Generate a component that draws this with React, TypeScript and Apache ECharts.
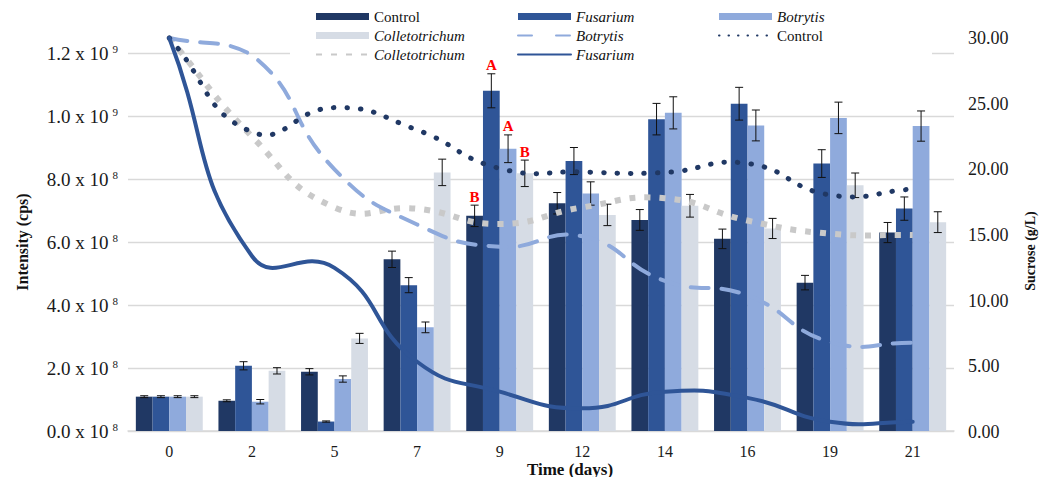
import React, { useEffect, useRef } from "react";
import * as echarts from "echarts";

// ---------- data ----------
const days = ["0", "2", "5", "7", "9", "12", "14", "16", "19", "21"];

// Intensity, in units of 10^8 cps
const controlIntensity = [1.09, 0.96, 1.88, 5.45, 6.83, 7.23, 6.7, 6.1, 4.71, 6.3];
const fusariumIntensity = [1.09, 2.07, 0.3, 4.63, 10.8, 8.57, 9.9, 10.39, 8.49, 7.06];
const botrytisIntensity = [1.09, 0.93, 1.65, 3.29, 8.96, 7.54, 10.1, 9.7, 9.94, 9.68];
const colletoIntensity = [1.09, 1.91, 2.94, 8.21, 8.18, 6.86, 7.15, 6.43, 7.8, 6.63];

const controlErr = [0.03, 0.03, 0.1, 0.26, 0.34, 0.34, 0.33, 0.31, 0.23, 0.32];
const fusariumErr = [0.03, 0.13, 0.02, 0.24, 0.54, 0.43, 0.5, 0.52, 0.44, 0.37];
const botrytisErr = [0.03, 0.07, 0.1, 0.17, 0.44, 0.37, 0.51, 0.49, 0.5, 0.48];
const colletoErr = [0.03, 0.1, 0.16, 0.42, 0.42, 0.34, 0.36, 0.32, 0.39, 0.33];

// significance letters (day 9)
const letterDayIndex = 4;
const day9Letters = ["B", "A", "A", "B"];

// Sucrose (g/L)
const controlSucrose = [30, 22.85, 24.7, 23.0, 20.07, 19.8, 19.76, 20.45, 18.05, 18.5];
const fusariumSucrose = [30, 13.4, 12.5, 5.35, 3.07, 1.8, 3.07, 2.6, 0.78, 0.78];
const botrytisSucrose = [30, 28.7, 20.0, 15.8, 14.1, 14.9, 11.5, 10.4, 6.85, 6.8];
const colletoSucrose = [30, 22.5, 17.1, 17.0, 15.84, 17.1, 17.8, 16.1, 15.1, 15.0];

// left axis tick labels
const leftTickMantissa = ["0.0", "2.0", "4.0", "6.0", "8.0", "1.0", "1.2"];
const leftTickExponent = ["8", "8", "8", "8", "8", "9", "9"];

// ---------- styles ----------
const FONT = '"Liberation Serif", "Times New Roman", serif';
const C_CONTROL = "#203864";
const C_FUS = "#2F5597";
const C_BOT = "#8FAADC";
const C_COL = "#D6DCE5";
const C_COL_LINE = "#C9C9C9";
const GAP = 0.19;
const SMOOTH = 0.5;

const displayNames: Record<string, string> = {
  Control: "{n|Control}",
  Fusarium: "{i|Fusarium}",
  Botrytis: "{i|Botrytis}",
  Colletotrichum: "{i|Colletotrichum}",
  "Control sucrose": "{n|Control}",
  "Fusarium sucrose": "{i|Fusarium}",
  "Botrytis sucrose": "{i|Botrytis}",
  "Colletotrichum sucrose": "{i|Colletotrichum}",
};

// Smooth bezier path through points (no monotone clamping, like spreadsheet smoothing)
function smoothPath(pts: number[][], s: number, yMin: number, yMax: number) {
  const n = pts.length;
  const cy = (y: number) => Math.min(yMax, Math.max(yMin, y));
  const before: number[][] = [];
  const after: number[][] = [];
  for (let i = 0; i < n; i++) {
    const p = pts[i];
    const p0 = pts[Math.max(0, i - 1)];
    const p2 = pts[Math.min(n - 1, i + 1)];
    const vx = p2[0] - p0[0];
    const vy = p2[1] - p0[1];
    const lp = Math.hypot(p[0] - p0[0], p[1] - p0[1]);
    const ln = Math.hypot(p2[0] - p[0], p2[1] - p[1]);
    const r = lp + ln > 0 ? ln / (lp + ln) : 0.5;
    before.push([p[0] - vx * s * (1 - r), cy(p[1] - vy * s * (1 - r))]);
    after.push([p[0] + vx * s * r, cy(p[1] + vy * s * r)]);
  }
  let d = `M${pts[0][0]},${pts[0][1]}`;
  for (let i = 0; i < n - 1; i++) {
    const a = after[i];
    const b = before[i + 1];
    const q = pts[i + 1];
    d += ` C${a[0]},${a[1]} ${b[0]},${b[1]} ${q[0]},${q[1]}`;
  }
  return d;
}

export default function App() {
  const ref = useRef<HTMLDivElement>(null);

  useEffect(() => {
    document.body.style.margin = "0";
    const chart = echarts.init(ref.current!, null, { renderer: "svg" });

    const barNames = ["Control", "Fusarium", "Botrytis", "Colletotrichum"];
    const barValues = [controlIntensity, fusariumIntensity, botrytisIntensity, colletoIntensity];
    const errValues = [controlErr, fusariumErr, botrytisErr, colletoErr];
    const barColors = [C_CONTROL, C_FUS, C_BOT, C_COL];

    const errData: number[][] = [];
    const errLetters: string[] = [];
    for (let s = 0; s < 4; s++) {
      for (let d = 0; d < days.length; d++) {
        errData.push([d, s, barValues[s][d], errValues[s][d]]);
        errLetters.push(d === letterDayIndex ? day9Letters[s] : "");
      }
    }

    const lineDefs = [
      {
        name: "Colletotrichum sucrose",
        values: colletoSucrose,
        style: { stroke: C_COL_LINE, lineWidth: 6, lineDash: [6, 9], lineCap: "butt" },
        legendLine: { color: C_COL_LINE, width: 6, type: [6, 9], cap: "butt" },
      },
      {
        name: "Botrytis sucrose",
        values: botrytisSucrose,
        style: { stroke: C_BOT, lineWidth: 4, lineDash: [18, 13], lineCap: "round" },
        legendLine: { color: C_BOT, width: 4, type: [14, 24], cap: "round" },
      },
      {
        name: "Control sucrose",
        values: controlSucrose,
        style: { stroke: C_CONTROL, lineWidth: 5, lineDash: [0.5, 13], lineCap: "round" },
        legendLine: { color: C_CONTROL, width: 5, type: [0.5, 9], cap: "round" },
      },
      {
        name: "Fusarium sucrose",
        values: fusariumSucrose,
        style: { stroke: C_FUS, lineWidth: 4, lineCap: "round" },
        legendLine: { color: C_FUS, width: 4, type: "solid", cap: "round" },
      },
    ];

    const legendText = {
      fontFamily: FONT,
      fontSize: 15,
      color: "#111",
      lineHeight: 19,
      rich: {
        n: { fontFamily: FONT, fontSize: 15, color: "#111", lineHeight: 19 },
        i: { fontFamily: FONT, fontSize: 15, color: "#111", fontStyle: "italic", lineHeight: 19 },
      },
    };
    const legendBase = {
      orient: "vertical",
      top: 7,
      padding: 0,
      itemGap: 0,
      itemWidth: 53,
      itemHeight: 7,
      selectedMode: false,
      formatter: (name: string) => displayNames[name] || name,
      textStyle: legendText,
    };
    const lineLegend = (name: string) => ({ name, itemStyle: { opacity: 0 } });

    const option: any = {
      animation: false,
      backgroundColor: "#fff",
      grid: [
        { left: 128, right: 92, top: 53, bottom: 46 },
        { left: 128, right: 92, top: 38, bottom: 45 },
      ],
      legend: [
        {
          ...legendBase,
          left: 315,
          data: [
            { name: "Control", icon: "rect" },
            { name: "Colletotrichum", icon: "rect" },
            lineLegend("Colletotrichum sucrose"),
          ],
        },
        {
          ...legendBase,
          left: 517,
          data: [
            { name: "Fusarium", icon: "rect" },
            lineLegend("Botrytis sucrose"),
            lineLegend("Fusarium sucrose"),
          ],
        },
        {
          ...legendBase,
          left: 718,
          data: [{ name: "Botrytis", icon: "rect" }, lineLegend("Control sucrose")],
        },
      ],
      xAxis: [
        {
          type: "category",
          gridIndex: 0,
          data: days,
          axisTick: { show: false },
          axisLine: { show: true, lineStyle: { color: "#D9D9D9", width: 1.5 } },
          axisLabel: {
            fontFamily: FONT,
            fontSize: 16,
            lineHeight: 14,
            color: "#1a1a1a",
            margin: 13,
          },
        },
        { type: "category", gridIndex: 1, data: days, show: false },
      ],
      yAxis: [
        {
          type: "value",
          gridIndex: 0,
          min: 0,
          max: 12,
          interval: 2,
          axisLine: { show: false },
          axisTick: { show: false },
          splitLine: { show: true, lineStyle: { color: "#D9D9D9", width: 1.3 } },
          axisLabel: {
            margin: 10,
            formatter: (_v: number, idx: number) =>
              `{m|${leftTickMantissa[idx]} x 10}{e|${leftTickExponent[idx]}}`,
            rich: {
              m: { fontFamily: FONT, fontSize: 19, color: "#1a1a1a", lineHeight: 20 },
              e: {
                fontFamily: FONT,
                fontSize: 11,
                color: "#1a1a1a",
                lineHeight: 11,
                verticalAlign: "top",
                padding: [0, 0, 0, 4],
              },
            },
          },
        },
        {
          type: "value",
          gridIndex: 1,
          position: "right",
          min: 0,
          max: 30,
          interval: 5,
          axisLine: { show: false },
          axisTick: { show: false },
          splitLine: { show: false },
          axisLabel: {
            margin: 14,
            fontFamily: FONT,
            fontSize: 18,
            color: "#1a1a1a",
            formatter: (v: number) => v.toFixed(2),
          },
        },
      ],
      graphic: [
        {
          type: "rect",
          z: 3,
          shape: { x: 290, y: 0, width: 642, height: 61 },
          style: { fill: "#fff" },
          silent: true,
        },
        {
          type: "text",
          x: 22,
          y: 242,
          rotation: Math.PI / 2,
          style: {
            text: "Intensity (cps)",
            fontFamily: FONT,
            fontSize: 16,
            fontWeight: "bold",
            fill: "#111",
            align: "center",
            verticalAlign: "middle",
          },
        },
        {
          type: "text",
          x: 1030,
          y: 251,
          rotation: Math.PI / 2,
          style: {
            text: "Sucrose (g/L)",
            fontFamily: FONT,
            fontSize: 14,
            fontWeight: "bold",
            fill: "#111",
            align: "center",
            verticalAlign: "middle",
          },
        },
        {
          type: "text",
          x: 570,
          y: 469,
          style: {
            text: "Time (days)",
            fontFamily: FONT,
            fontSize: 17,
            lineHeight: 15,
            fontWeight: "bold",
            fill: "#111",
            align: "center",
            verticalAlign: "middle",
          },
        },
      ],
      series: [
        ...barNames.map((name, s) => ({
          name,
          type: "bar",
          xAxisIndex: 0,
          yAxisIndex: 0,
          data: barValues[s],
          barGap: "0%",
          barCategoryGap: `${GAP * 100}%`,
          itemStyle: { color: barColors[s] },
        })),
        {
          name: "errors",
          type: "custom",
          xAxisIndex: 0,
          yAxisIndex: 0,
          data: errData,
          z: 3,
          renderItem: (params: any, api: any) => {
            const ci = api.value(0);
            const si = api.value(1);
            const mean = api.value(2);
            const err = api.value(3);
            const band = api.size([1, 0])[0];
            const bw = (band * (1 - GAP)) / 4;
            const cx = api.coord([ci, 0])[0] + (si - 1.5) * bw;
            const yTop = api.coord([ci, mean + err])[1];
            const yBot = api.coord([ci, mean - err])[1];
            const cap = 4;
            const ls = { stroke: "#111", lineWidth: 1 };
            const children: any[] = [
              { type: "line", shape: { x1: cx, y1: yTop, x2: cx, y2: yBot }, style: ls },
              { type: "line", shape: { x1: cx - cap, y1: yTop, x2: cx + cap, y2: yTop }, style: ls },
              { type: "line", shape: { x1: cx - cap, y1: yBot, x2: cx + cap, y2: yBot }, style: ls },
            ];
            const letter = errLetters[params.dataIndex];
            if (letter) {
              children.push({
                type: "text",
                x: cx,
                y: yTop - 1,
                style: {
                  text: letter,
                  fontFamily: FONT,
                  fontSize: 15,
                  fontWeight: "bold",
                  fill: "#FF0000",
                  align: "center",
                  verticalAlign: "bottom",
                },
              });
            }
            return { type: "group", children };
          },
        },
        // legend entries for the sucrose curves
        ...lineDefs.map((l) => ({
          name: l.name,
          type: "line",
          xAxisIndex: 1,
          yAxisIndex: 1,
          data: [],
          symbol: "none",
          lineStyle: l.legendLine,
          itemStyle: { color: l.legendLine.color },
        })),
        // smoothed sucrose curves
        ...lineDefs.map((l) => ({
          name: l.name + " curve",
          type: "custom",
          xAxisIndex: 1,
          yAxisIndex: 1,
          z: 4,
          data: l.values.map((v, i) => [i, v]),
          renderItem: (params: any, api: any) => {
            if (params.dataIndex !== 0) return null;
            const cs = params.coordSys;
            const pts = l.values.map((v, i) => api.coord([i, v]));
            return {
              type: "path",
              shape: { pathData: smoothPath(pts, SMOOTH, cs.y, cs.y + cs.height) },
              style: { ...l.style, fill: "none" },
            };
          },
        })),
      ],
    };

    chart.setOption(option);
    return () => chart.dispose();
  }, []);

  return <div ref={ref} style={{ width: 1046, height: 477 }} />;
}
